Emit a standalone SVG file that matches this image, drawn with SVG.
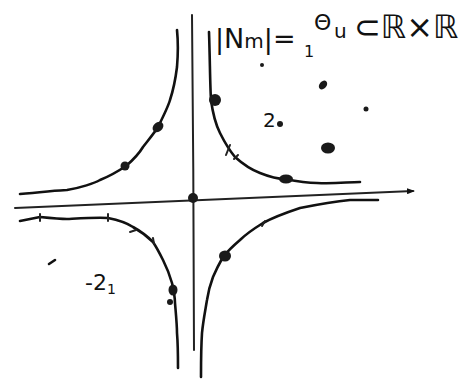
<svg xmlns="http://www.w3.org/2000/svg" width="474" height="391" viewBox="0 0 474 391">
<style>
.c{fill:none;stroke:#111;stroke-width:2.6;stroke-linecap:round;stroke-linejoin:round}
.a{fill:none;stroke:#222;stroke-width:2;stroke-linecap:round}
.d{fill:#1a1a1a}
.t{font-family:"DejaVu Sans",sans-serif;fill:#111}
</style>
<defs>
<marker id="ar" markerWidth="8" markerHeight="6" refX="6" refY="3" orient="auto" markerUnits="userSpaceOnUse"><path d="M0,0 L8,3 L0,6 Z" fill="#111"/></marker>
</defs>
<rect width="474" height="391" fill="#fff"/>
<g id="axes">
<path class="a" d="M192,15 C193,120 194,250 194,350"/>
<path class="a" d="M15,208 L413,191" marker-end="url(#ar)"/>
<circle class="d" cx="193" cy="198" r="5"/>
</g>
<g id="connectors">
<path class="c" d="M20,194 C45,192 60,190 67,190 C80,188 95,183 100,180 C110,176 120,170 126,166 C133,160 140,152 143,147 C150,138 155,132 158,127 C164,115 168,107 170,100 C174,88 176,75 177,67 C178,55 178,40 177,30"/>
<path class="c" d="M209,32 C210,60 210,85 211,100 C213,115 216,125 220,133 C225,143 230,151 235,157 C245,166 252,170 260,173 C270,177 278,179 285,179 C300,182 310,183 317,183 C335,184 348,182 360,182"/>
<path class="c" d="M20,221 C30,219 35,218 40,217 C50,218 60,219 67,219 C85,218 100,217 108,218 C118,220 127,223 133,227 C142,232 148,237 153,242 C157,248 160,254 163,260 C167,268 170,276 172,283 C174,292 175,298 175,303 C176,315 177,325 177,333 C178,345 178,358 178,368"/>
<path class="c" d="M378,200 C365,200 358,200 350,200 C330,202 315,205 300,208 C285,213 272,218 263,223 C255,228 246,234 240,240 C233,246 227,252 223,257 C219,264 216,270 213,277 C210,285 208,293 207,300 C205,312 203,322 202,333 C201,348 201,362 201,377"/>
</g>
<g id="points">
<ellipse class="d" cx="158" cy="127" rx="6" ry="4.5" transform="rotate(-40 158 127)"/>
<circle class="d" cx="125" cy="166" r="4.5"/>
<ellipse class="d" cx="215" cy="100" rx="6" ry="6"/>
<ellipse class="d" cx="286" cy="179" rx="7" ry="4.5"/>
<ellipse class="d" cx="225" cy="256" rx="6" ry="5.5"/>
<ellipse class="d" cx="173" cy="290" rx="4.5" ry="5.5"/>
<ellipse class="d" cx="170" cy="302" rx="3" ry="3"/>
<ellipse class="d" cx="328" cy="148" rx="7" ry="5.5"/>
<ellipse class="d" cx="323" cy="85" rx="3.5" ry="5" transform="rotate(40 323 85)"/>
<circle class="d" cx="366" cy="109" r="2.5"/>
<circle class="d" cx="280" cy="124" r="3"/>
<circle class="d" cx="262" cy="65" r="2"/>
<path class="c" d="M49,264 L55,260"/>
<path class="a" d="M230,145 L226,155 M234,159 L238,155 M40,214 L40,221 M108,214 L108,221 M130,232 L136,230 M153,238 L154,244 M265,221 L262,226"/>
</g>
<g id="labels">
<text class="t" x="215" y="48" font-size="27">|N<tspan font-size="20">m</tspan>|=</text>
<text class="t" x="304" y="57" font-size="16">1</text>
<text class="t" x="314" y="30" font-size="22">Θ</text>
<text class="t" x="334" y="38" font-size="20">u</text>
<text class="t" x="354" y="38" font-size="32">⊂ℝ×ℝ</text>
<text class="t" x="263" y="127" font-size="20">2</text>
<text class="t" x="85" y="290" font-size="22">-2<tspan font-size="14" dy="4">1</tspan></text>
</g>
</svg>
